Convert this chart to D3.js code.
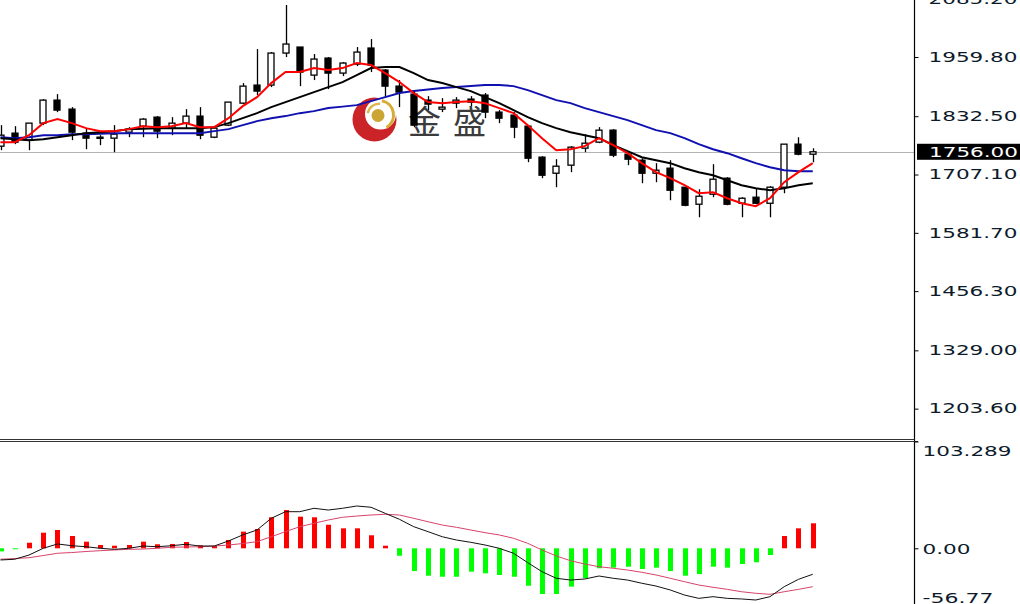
<!DOCTYPE html>
<html><head><meta charset="utf-8">
<script src="https://cdn.jsdelivr.net/npm/d3@7"></script>
<style>html,body{margin:0;padding:0;background:#fff;}svg{display:block;}</style>
</head><body>
<svg id="chart" width="1020" height="604"></svg>
<script>
// ---- data ----
const openP  = [1768.1,1796.1,1781.0,1817.6,1867.1,1847.7,1796.1,1787.4,1785.3,1798.2,1811.1,1830.5,1806.8,1817.6,1832.7,1787.4,1813.3,1860.6,1899.4,1899.4,1968.3,1981.2,1920.9,1957.5,1925.2,1944.6,1979.1,1931.7,1897.2,1880.0,1867.1,1847.7,1860.6,1869.3,1877.9,1841.3,1834.8,1811.1,1744.4,1709.9,1727.2,1763.8,1776.7,1802.5,1750.8,1737.9,1709.9,1720.7,1679.8,1643.2,1664.7,1699.2,1645.3,1658.3,1645.3,1679.8,1772.4,1750.8];
const highP  = [1813.3,1811.1,1817.6,1869.3,1880.0,1852.0,1806.8,1791.7,1813.3,1809.0,1828.3,1832.7,1830.5,1847.7,1852.0,1811.1,1862.8,1903.7,1976.9,1970.4,2071.6,1981.2,1966.1,1959.7,1948.9,1981.2,1998.4,1933.8,1910.2,1888.6,1875.7,1871.4,1873.6,1875.7,1882.2,1845.6,1841.3,1813.3,1746.5,1740.1,1768.1,1793.9,1809.0,1804.7,1755.1,1742.2,1731.5,1737.9,1679.8,1675.5,1729.3,1701.3,1658.3,1677.6,1681.9,1772.4,1787.4,1763.8];
const lowP   = [1759.4,1772.4,1759.4,1813.3,1841.3,1781.0,1761.6,1770.2,1755.1,1787.4,1787.4,1785.3,1791.7,1806.8,1783.1,1785.3,1811.1,1858.5,1877.9,1895.1,1959.7,1897.2,1910.2,1890.8,1918.8,1940.3,1927.4,1873.6,1852.0,1809.0,1845.6,1841.3,1849.9,1854.2,1828.3,1817.6,1785.3,1733.6,1699.2,1679.8,1712.1,1755.1,1774.5,1744.4,1727.2,1688.4,1690.6,1651.8,1638.9,1615.2,1658.3,1641.0,1615.2,1643.2,1615.2,1666.9,1748.7,1733.6];
const closeP = [1791.7,1776.7,1817.6,1867.1,1845.6,1798.2,1785.3,1786.4,1793.9,1804.7,1826.2,1800.4,1817.6,1832.7,1791.7,1806.8,1862.8,1897.2,1886.5,1968.3,1987.7,1927.4,1955.4,1925.2,1946.8,1970.4,1942.5,1897.2,1884.3,1813.3,1858.5,1852.0,1867.1,1862.8,1841.3,1828.3,1809.0,1742.2,1705.6,1725.0,1765.9,1774.5,1802.5,1748.7,1740.1,1709.9,1716.4,1673.3,1641.0,1660.4,1697.0,1643.2,1656.1,1645.3,1679.8,1772.4,1750.8,1756.0];

const maRed   = [1776.7,1776.7,1791.7,1817.6,1826.2,1817.6,1806.8,1800.4,1800.4,1804.7,1811.1,1809.0,1811.1,1817.6,1809.0,1809.0,1828.3,1854.2,1873.6,1903.7,1927.4,1927.4,1936.0,1931.7,1936.0,1946.8,1942.5,1925.2,1905.9,1882.2,1862.8,1860.6,1862.8,1864.9,1860.6,1849.9,1839.1,1813.3,1785.3,1759.4,1761.6,1768.1,1785.3,1770.2,1753.0,1731.5,1712.1,1699.2,1684.1,1666.9,1669.0,1656.1,1645.3,1638.9,1656.1,1690.6,1712.1,1731.5];
const maBlack = [1785.3,1783.1,1781.0,1783.1,1787.4,1791.7,1796.1,1798.2,1800.4,1804.7,1805.7,1806.8,1806.8,1806.8,1806.8,1809.0,1817.6,1828.3,1839.1,1852.0,1862.8,1873.6,1884.3,1895.1,1905.9,1920.9,1936.0,1938.1,1938.1,1925.2,1910.2,1903.7,1895.1,1886.5,1873.6,1860.6,1845.6,1830.5,1817.6,1806.8,1798.2,1791.7,1785.3,1770.2,1757.3,1744.4,1737.9,1731.5,1720.7,1712.1,1705.6,1694.9,1684.1,1677.6,1673.3,1677.6,1684.1,1688.4];
const maBlue  = [1787.4,1785.3,1787.4,1791.7,1791.7,1793.9,1793.9,1795.0,1796.1,1796.1,1796.1,1796.1,1796.1,1796.1,1796.1,1800.4,1804.7,1813.3,1821.9,1828.3,1832.7,1839.1,1843.4,1849.9,1853.1,1856.3,1864.9,1873.6,1882.2,1886.5,1889.7,1892.9,1895.1,1897.2,1899.4,1899.4,1897.2,1888.6,1877.9,1867.1,1860.6,1849.9,1841.3,1832.7,1824.0,1813.3,1802.5,1796.1,1785.3,1772.4,1761.6,1753.0,1742.2,1731.5,1722.8,1716.4,1714.2,1714.2];

const macdHist = [-3.0,-0.6,5.4,15.1,17.7,11.9,6.4,3.2,2.5,3.2,6.4,3.9,4.2,6.1,2.9,2.2,8.0,16.1,18.7,30.0,37.0,30.6,30.0,22.8,19.3,19.3,12.6,2.5,-7.2,-22.0,-26.5,-27.5,-27.5,-22.6,-24.2,-25.8,-27.5,-36.2,-44.2,-44.2,-37.1,-29.0,-19.3,-18.7,-17.8,-20.0,-18.7,-22.0,-26.5,-24.9,-17.8,-18.7,-15.2,-13.5,-6.5,11.9,19.3,24.2];
const macdDif  = [-11.3,-10.6,-6.5,0,4.2,2.5,1.5,0,-1.0,0,2.2,1.5,2.5,3.9,2.2,2.2,7.1,12.9,17.7,29.0,35.4,35.4,38.7,37.0,38.7,40.9,39.7,33.8,28.0,20.9,16.1,11.2,8.0,5.8,3.2,0,-4.8,-13.9,-22.6,-29.0,-30.7,-29.7,-26.8,-29.0,-30.7,-33.8,-36.5,-40.3,-45.2,-48.4,-46.8,-48.4,-49.0,-50.0,-46.8,-37.1,-30.0,-25.1];
const macdDea  = [-10.6,-9.9,-9.1,-7.0,-4.8,-4.1,-3.1,-2.3,-1.6,-1.0,-0.7,0,1.0,1.3,1.5,2.2,3.2,4.6,6.4,11.2,16.1,20.9,24.2,27.4,30.0,31.2,32.2,32.9,32.2,29.0,25.7,22.5,20.3,17.7,15.1,12.9,9.7,4.8,-1.6,-7.4,-12.0,-15.2,-17.8,-19.3,-21.0,-23.2,-25.8,-29.0,-32.3,-35.5,-37.7,-39.7,-42.0,-43.5,-44.5,-42.0,-39.7,-37.1];

const priceTickValues = [2085.2,1959.8,1832.5,1707.1,1581.7,1456.3,1329.0,1203.6];
const priceTickLabels = ["2085.20","1959.80","1832.50","1707.10","1581.70","1456.30","1329.00","1203.60"];
const lastPrice = 1756.0;
const lastPriceLabel = "1756.00";
const macdTickValues = [103.289,0,-56.77];
const macdTickLabels = ["103.289","0.00","-56.77"];
const watermarkText = ["金","盛"];

// ---- layout ----
const svg = d3.select("#chart");
const W = 1020, H = 604;
const axisX = 914.5;
const priceTop = 0, priceBottom = 438.5;
const macdTop = 441.5, macdBottom = 607;
const N = closeP.length;

const x = d3.scaleLinear().domain([0, N - 1]).range([0.5, 812.75]);
const y = d3.scaleLinear().domain([1139.4, 2082.4]).range([priceBottom, priceTop]);
const ym = d3.scaleLinear().domain([-56.77, 103.289]).range([macdBottom, macdTop]);

svg.append("rect").attr("width", W).attr("height", H).attr("fill", "#fff");

const pricePanel = svg.append("g");
pricePanel.append("clipPath").attr("id","clipP").append("rect").attr("x",0).attr("y",0).attr("width",axisX).attr("height",priceBottom);
const pp = pricePanel.append("g").attr("clip-path","url(#clipP)");

// watermark logo
const logo = pp.append("g").attr("opacity", 0.95);
logo.append("circle").attr("cx",374.5).attr("cy",119.5).attr("r",22).attr("fill","#c8191e");
logo.append("circle").attr("cx",380.5).attr("cy",114).attr("r",15.5).attr("fill","#fff");
logo.append("path").attr("d", d3.arc()({innerRadius:13,outerRadius:16,startAngle:0.2,endAngle:2.6})).attr("transform","translate(379,115)").attr("fill","#d4a82a");
logo.append("path").attr("d", d3.arc()({innerRadius:10,outerRadius:12.5,startAngle:-1.4,endAngle:0.1})).attr("transform","translate(379,115)").attr("fill","#d9b648");
logo.append("circle").attr("cx",378).attr("cy",115.5).attr("r",6.5).attr("fill","#c9a22a");
pp.selectAll("text.wm").data(watermarkText).join("text").attr("class","wm")
  .attr("x",(d,i)=> i===0 ? 408 : 453).attr("y",134)
  .attr("font-family","'Noto Sans CJK TC','Noto Sans CJK SC',serif").attr("font-size",33).attr("font-weight",400)
  .attr("fill","#262626").attr("opacity",0.9).text(d=>d);

// last price line
pp.append("line").attr("x1",0).attr("x2",axisX).attr("y1",Math.round(y(lastPrice))+0.5).attr("y2",Math.round(y(lastPrice))+0.5)
  .attr("stroke","#b4b4b4").attr("stroke-width",1);

// candles
const idx = d3.range(N);
const bodyW = 7;
const cg = pp.append("g");
cg.selectAll("line.wick").data(idx).join("line").attr("class","wick")
  .attr("x1",i=>Math.round(x(i))+0.5).attr("x2",i=>Math.round(x(i))+0.5)
  .attr("y1",i=>y(highP[i])).attr("y2",i=>y(lowP[i]))
  .attr("stroke","#000").attr("stroke-width",1.3);
cg.selectAll("rect.body").data(idx).join("rect").attr("class","body")
  .attr("x",i=>Math.round(x(i)) - (bodyW-1)/2)
  .attr("width",bodyW-1)
  .attr("y",i=>y(Math.max(openP[i],closeP[i])))
  .attr("height",i=>Math.max(1.2, Math.abs(y(openP[i])-y(closeP[i]))))
  .attr("fill",i=> closeP[i] >= openP[i] ? "#fff" : "#000")
  .attr("stroke","#000").attr("stroke-width",1.3);

// moving averages
const line = arr => d3.line().x((d,i)=>x(i)).y(d=>y(d))(arr);
pp.append("path").attr("d",line(maBlue)).attr("fill","none").attr("stroke","#1010b0").attr("stroke-width",2);
pp.append("path").attr("d",line(maBlack)).attr("fill","none").attr("stroke","#000").attr("stroke-width",2);
pp.append("path").attr("d",line(maRed)).attr("fill","none").attr("stroke","#f00").attr("stroke-width",2);

// price axis
const fontFam = "'DejaVu Sans', Verdana, sans-serif";
const pAxis = svg.append("g").attr("transform",`translate(${axisX},0)`)
  .call(d3.axisRight(y).tickValues(priceTickValues).tickFormat((d,i)=>priceTickLabels[i]).tickSize(4).tickPadding(10));
pAxis.select(".domain").remove();
pAxis.selectAll(".tick line").attr("stroke","#000");
pAxis.selectAll(".tick text").attr("font-family",fontFam).attr("font-size",13.5).attr("fill","#0c1a2a")
  .attr("textLength",89).attr("lengthAdjust","spacingAndGlyphs");

// last price tag
const ly = y(lastPrice);
svg.append("rect").attr("x",917).attr("y",ly-8).attr("width",103).attr("height",16).attr("fill","#000");
svg.append("text").attr("x",929).attr("y",ly).attr("dy","0.36em").attr("font-family",fontFam).attr("font-size",13.5)
  .attr("fill","#fff").attr("textLength",89).attr("lengthAdjust","spacingAndGlyphs").text(lastPriceLabel);

// frames
svg.append("line").attr("x1",axisX).attr("x2",axisX).attr("y1",0).attr("y2",H).attr("stroke","#000").attr("stroke-width",1.2);
svg.append("line").attr("x1",0).attr("x2",axisX).attr("y1",439.5).attr("y2",439.5).attr("stroke","#333").attr("stroke-width",1.2);
svg.append("line").attr("x1",0).attr("x2",918).attr("y1",441.5).attr("y2",441.5).attr("stroke","#333").attr("stroke-width",1.2);

// MACD panel
const mp = svg.append("g");
mp.selectAll("rect.hist").data(idx).join("rect").attr("class","hist")
  .attr("x",i=>Math.round(x(i)) - 2)
  .attr("width",5)
  .attr("y",i=>Math.min(ym(0), ym(macdHist[i])))
  .attr("height",i=>Math.max(1, Math.abs(ym(macdHist[i]) - ym(0))))
  .attr("fill",i=> macdHist[i] >= 0 ? "#ff0000" : "#00ff00");
const mline = arr => d3.line().x((d,i)=>x(i)).y(d=>ym(d))(arr);
mp.append("path").attr("d",mline(macdDea)).attr("fill","none").attr("stroke","#d8436b").attr("stroke-width",1);
mp.append("path").attr("d",mline(macdDif)).attr("fill","none").attr("stroke","#111").attr("stroke-width",1);

const mAxis = svg.append("g").attr("transform",`translate(${axisX},0)`)
  .call(d3.axisRight(ym).tickValues(macdTickValues).tickFormat((d,i)=>macdTickLabels[i]).tickSize(4).tickPadding(4));
mAxis.select(".domain").remove();
mAxis.selectAll(".tick line").attr("stroke","#000");
const mWidths = [89, 48, 71];
mAxis.selectAll(".tick text").attr("font-family",fontFam).attr("font-size",13.5).attr("fill","#0c1a2a")
  .attr("textLength",(d,i)=>mWidths[i]).attr("lengthAdjust","spacingAndGlyphs")
  .attr("dy",(d,i)=> i===0 ? "1.05em" : (i===2 ? "-0.3em" : "0.38em"));
</script>
</body></html>
